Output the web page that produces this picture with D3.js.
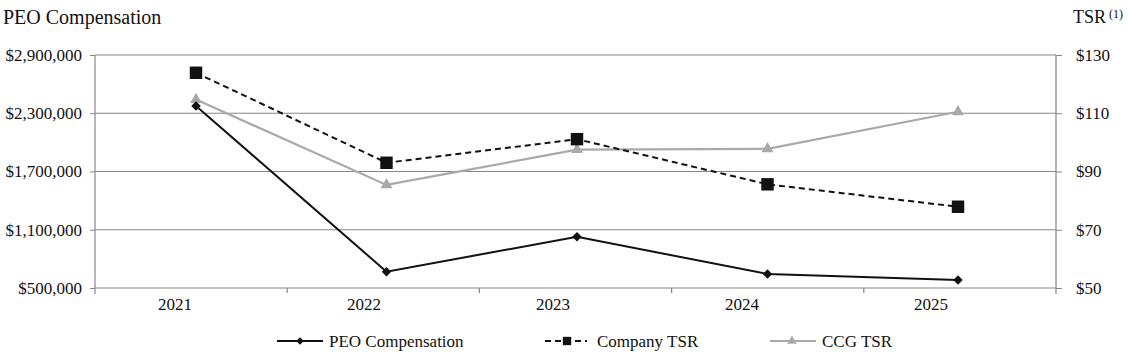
<!DOCTYPE html>
<html><head><meta charset="utf-8">
<script src="https://cdn.jsdelivr.net/npm/d3@7"></script>
<style>body{margin:0;background:#fff}svg{display:block}</style>
</head><body><svg id="c" width="1130" height="352"></svg>
<script>
const years = ["2021","2022","2023","2024","2025"];
const peoComp = [2375000, 668000, 1028000, 644000, 582000];
const companyTSR = [123.9, 93.0, 101.1, 85.6, 77.9];
const ccgTSR = [114.7, 85.4, 97.5, 97.8, 110.5];
const leftTicks = [500000, 1100000, 1700000, 2300000, 2900000];
const rightTicks = [50, 70, 90, 110, 130];

const FONT = "'Liberation Serif'";
const svg = d3.select("#c");
const L = 95, R = 1056, T = 55, B = 288;
const yL = d3.scaleLinear().domain([500000, 2900000]).range([B, T]);
const yR = d3.scaleLinear().domain([50, 130]).range([B, T]);
const xBand = d3.scaleBand().domain(years).range([L, R]);
const xLab = d3.scalePoint().domain(years).range([175, 931]);
const xPt = d3.scalePoint().domain(years).range([196, 958]);
const grid = "#878787";

svg.append("g").selectAll("line").data(leftTicks).join("line")
  .attr("x1", L).attr("x2", R).attr("y1", d => yL(d)).attr("y2", d => yL(d))
  .attr("stroke", grid).attr("stroke-width", 1.2);

const gl = svg.append("g").attr("transform", `translate(${L},0)`)
  .call(d3.axisLeft(yL).tickValues(leftTicks).tickSize(5).tickPadding(8)
    .tickFormat(d => "$" + d3.format(",")(d)));
gl.select(".domain").remove();
gl.selectAll("line").attr("stroke", grid);

const gr = svg.append("g").attr("transform", `translate(${R},0)`)
  .call(d3.axisRight(yR).tickValues(rightTicks).tickSize(6).tickPadding(14)
    .tickFormat(d => "$" + d));
gr.select(".domain").remove();
gr.selectAll("line").attr("stroke", grid);

svg.append("line").attr("x1", L).attr("x2", L).attr("y1", T).attr("y2", B + 6).attr("stroke", grid).attr("stroke-width", 1.2);
svg.append("line").attr("x1", R).attr("x2", R).attr("y1", T).attr("y2", B + 6).attr("stroke", grid).attr("stroke-width", 1.2);

const bounds = years.slice(1).map(y => xBand(y));
svg.append("g").selectAll("line").data(bounds).join("line")
  .attr("x1", d => d).attr("x2", d => d).attr("y1", B).attr("y2", B + 5)
  .attr("stroke", grid).attr("stroke-width", 1.2);

svg.append("g").selectAll("text").data(years).join("text")
  .attr("x", d => xLab(d)).attr("y", 310).attr("text-anchor", "middle")
  .style("font-size", "17px").text(d => d);

svg.append("text").attr("x", 3).attr("y", 24).style("font-size", "20px").text("PEO Compensation");
const tsr = svg.append("text").attr("x", 1073).attr("y", 23).style("font-size", "18px");
tsr.append("tspan").text("TSR");
tsr.append("tspan").attr("dx", 3).attr("dy", -5).style("font-size", "12px").text("(1)");

const line = (ys, vals) => d3.line().x((d, i) => xPt(years[i])).y(d => ys(d))(vals);

svg.append("path").attr("d", line(yR, ccgTSR)).attr("fill", "none").attr("stroke", "#a9a9a9").attr("stroke-width", 2.2);
svg.append("path").attr("d", line(yR, companyTSR)).attr("fill", "none").attr("stroke", "#111").attr("stroke-width", 2).attr("stroke-dasharray", "6,4");
svg.append("path").attr("d", line(yL, peoComp)).attr("fill", "none").attr("stroke", "#111").attr("stroke-width", 2);

const sym = (type, size) => d3.symbol().type(type).size(size)();
svg.append("g").selectAll("path").data(ccgTSR).join("path")
  .attr("transform", (d, i) => `translate(${xPt(years[i])},${yR(d)})`)
  .attr("d", sym(d3.symbolTriangle, 60)).attr("fill", "#a9a9a9");
svg.append("g").selectAll("path").data(companyTSR).join("path")
  .attr("transform", (d, i) => `translate(${xPt(years[i])},${yR(d)})`)
  .attr("d", sym(d3.symbolSquare, 155)).attr("fill", "#111");
svg.append("g").selectAll("path").data(peoComp).join("path")
  .attr("transform", (d, i) => `translate(${xPt(years[i])},${yL(d)}) rotate(45)`)
  .attr("d", sym(d3.symbolSquare, 45)).attr("fill", "#111");

const legend = [
  {name: "PEO Compensation", x: 277, color: "#111", dash: null, symbol: "diamond"},
  {name: "Company TSR", x: 545, color: "#111", dash: "6,4", symbol: "square"},
  {name: "CCG TSR", x: 770, color: "#a9a9a9", dash: null, symbol: "triangle"}
];
const ly = 341;
const lg = svg.append("g").selectAll("g").data(legend).join("g").attr("transform", d => `translate(${d.x},${ly})`);
lg.append("line").attr("x1", 0).attr("x2", d => d.symbol === "square" ? 42 : 46).attr("y1", 0).attr("y2", 0)
  .attr("stroke", d => d.color).attr("stroke-width", 2).attr("stroke-dasharray", d => d.dash);
lg.append("path").attr("transform", d => d.symbol === "diamond" ? "translate(23,0) rotate(45)" : "translate(22,0)")
  .attr("d", d => d.symbol === "diamond" ? sym(d3.symbolSquare, 30) : d.symbol === "square" ? sym(d3.symbolSquare, 70) : sym(d3.symbolTriangle, 40))
  .attr("fill", d => d.color);
lg.append("text").attr("x", 52).attr("y", 6).style("font-size", "17px").text(d => d.name);

svg.selectAll("g").attr("font-family", null);
svg.selectAll("text").style("font-family", FONT).style("fill", "#111");
gl.selectAll("text").style("font-size", "17px");
gr.selectAll("text").style("font-size", "17px");
</script></body></html>
